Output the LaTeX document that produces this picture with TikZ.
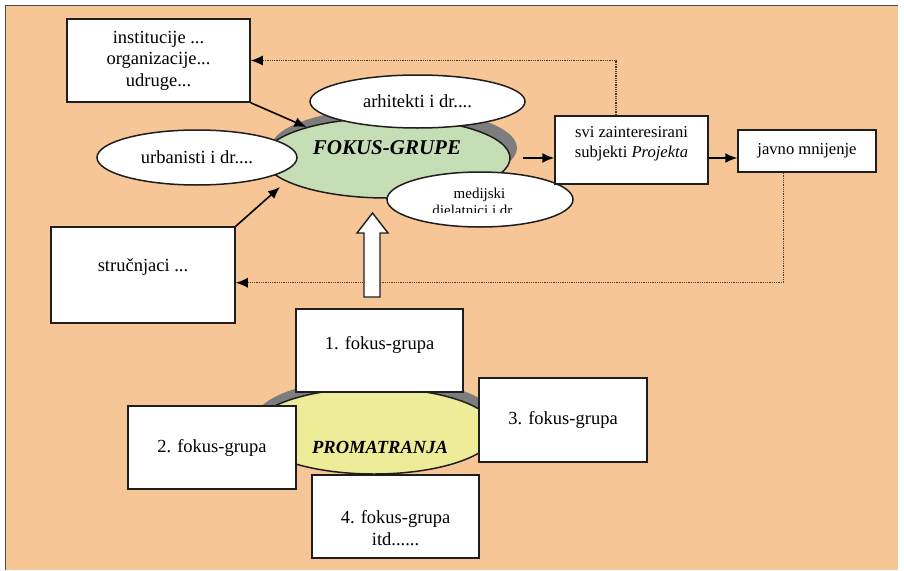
\documentclass[tikz,border=0pt]{standalone}
\usepackage{fontspec}
\setmainfont{Liberation Serif}
\usetikzlibrary{arrows.meta,shapes.geometric,calc}
\definecolor{bgpeach}{RGB}{246,198,150}
\definecolor{fgreen}{RGB}{198,222,182}
\definecolor{fyellow}{RGB}{238,236,152}
\definecolor{shgray}{RGB}{125,125,125}
\definecolor{edgec}{RGB}{30,30,30}
\definecolor{dotc}{RGB}{70,62,56}
\newcommand\fsmain{\fontsize{18.5}{21.5}\selectfont}
\newcommand\fssmall{\fontsize{16.6}{20}\selectfont}
\newcommand\fsmed{\fontsize{15}{17}\selectfont}
\newcommand\fsbig{\fontsize{21}{24}\selectfont}
\tikzset{
 box/.style={draw=edgec, line width=1.5pt, fill=white, inner sep=0pt, align=center, font=\fsmain},
 oval/.style={ellipse, draw=edgec, line width=1.5pt, fill=white, inner sep=0pt},
 txt/.style={inner sep=0pt, align=center},
 arr/.style={draw=black, line width=1.6pt, -{Latex[length=12pt,width=10pt]}},
 dotarr/.style={draw=dotc, line width=1.2pt, dash pattern=on 1pt off 0.8pt, -{Latex[length=12pt,width=10pt,color=black]}},
}
\begin{document}
\begin{tikzpicture}[x=1pt,y=-1pt]
\useasboundingbox (0,0) rectangle (904,570);
\fill[bgpeach] (5,5) rectangle (898,570);
\draw[gray!60!black, line width=1pt] (5,570) -- (5,5) -- (898,5);

% upper group
\fill[shgray] (394,148) ellipse [x radius=123, y radius=40];
\node[oval, fill=fgreen, minimum width=246, minimum height=80] (fokus) at (387,158) {};
\node[txt, font=\fsbig\bfseries\itshape] (fokusT) at (387,148) {FOKUS-GRUPE};
\node[oval, minimum width=215, minimum height=53, font=\fsmain] (arh) at (417.5,101.5) {arhitekti i dr....};
\node[oval, minimum width=200, minimum height=55, font=\fsmain] (urb) at (197,157.5) {urbanisti i dr....};
\node[oval, minimum width=186, minimum height=55] (med) at (480,199.5) {};
\begin{scope}
\clip (380,170) rectangle (580,212.5);
\node[txt, font=\fsmed] (medT) at (479.5,203) {medijski\\djelatnici i dr....};
\end{scope}

\node[box, minimum width=183, minimum height=83] (inst) at (158.5,60.5) {institucije ...\\organizacije...\\udruge...};
\node[box, minimum width=184, minimum height=96, text height=12.6pt, text depth=20pt] (str) at (143,275) {stručnjaci ...};
\node[box, minimum width=153, minimum height=68] (svi) at (631.5,150) {};
\node[txt, font=\fssmall] (sviT) at (631.5,144) {svi zainteresirani\\subjekti \textit{Projekta}};
\node[box, minimum width=138, minimum height=42, font=\fssmall] (jav) at (807,151) {javno mnijenje};

% lower group
\fill[shgray] (376,421) ellipse [x radius=122, y radius=43];
\node[oval, fill=fyellow, minimum width=244, minimum height=86] (prom) at (374,431) {};
\node[txt, font=\fsmain\bfseries\itshape] (promT) at (380,447) {PROMATRANJA};
\node[box, minimum width=167, minimum height=83, text height=12.6pt, text depth=14pt] (g1) at (379.5,350.5) {1. fokus-grupa};
\node[box, minimum width=168, minimum height=83] (g2) at (212,447.5) {2. fokus-grupa};
\node[box, minimum width=168, minimum height=84] (g3) at (563,420) {3. fokus-grupa};
\node[box, minimum width=167, minimum height=83] (g4) at (395.5,516.5) {};
\node[txt, font=\fsmain] (g4T) at (395.5,528) {4. fokus-grupa\\itd......};

% connectors
\draw[arr] (inst.south east) -- (fokus.159);
\coordinate (sTip) at (280,187);
\draw[arr] (str.north east) -- (sTip);
\draw[arr] ($(fokus.east)+(12,0)$) -- (svi.west |- fokus.east);
\draw[arr] (svi.east |- fokus.east) -- (jav.west |- fokus.east);

\coordinate (d1) at ($(svi.north west)!0.4!(svi.north east)$);
\draw[dotarr] (d1) -- (d1 |- inst.east) -- (inst.east);
\coordinate (d2) at ($(jav.south west)!0.333!(jav.south east)$);
\coordinate (d2c) at ($(d2)+(0,110)$);
\draw[dotarr] (d2) -- (d2c) -- (str.east |- d2c);

% big hollow arrow
\draw[edgec, line width=1.4pt, fill=white] (364,297) -- (364,233) -- (357,233) -- (372.5,213) -- (388,233) -- (380,233) -- (380,297) -- cycle;
\end{tikzpicture}
\end{document}
